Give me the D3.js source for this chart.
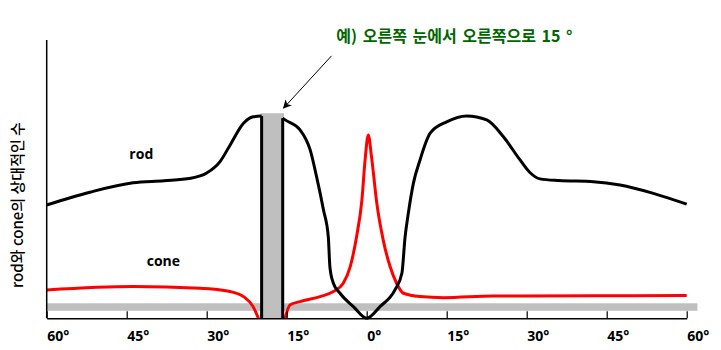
<!DOCTYPE html>
<html>
<head>
<meta charset="utf-8">
<script src="https://cdn.jsdelivr.net/npm/d3@7"></script>
<style>
  body { margin: 0; background: #fff; }
  svg { display: block; }
</style>
</head>
<body>
<svg id="chart" width="721" height="350"></svg>
<script>
// eccentricity in degrees (left of 0 = negative), relative count 0..100
var rodLeft = [
    [-60, 40.7], [-51.9, 45.3], [-43.8, 48.7], [-38, 49.4], [-33, 50.3],
    [-30, 52.2], [-27.5, 56.3], [-25.6, 62.3], [-23.1, 70.1], [-21.3, 72.4],
    [-19.7, 72.7]
];
var rodRight = [
    [-15.75, 71.9], [-15.3, 71.3], [-12.5, 67.7], [-10.6, 60.5], [-9.4, 50.9],
    [-8.1, 38.9], [-7.2, 29.3], [-6.9, 18.5], [-6.25, 12.6], [-5.0, 9.0],
    [-2.5, 4.2], [0, 0], [2.5, 4.2], [5.3, 10.2], [6.6, 16.2], [7.2, 29.3],
    [7.8, 37.7], [8.75, 48.5], [10.0, 56.9], [11.9, 66.5], [15.0, 70.6],
    [18.75, 72.7], [22.5, 71.3], [25.6, 65.3], [28.75, 56.9], [30.6, 52.4],
    [32.5, 50.1], [36, 49.5], [42.5, 49.1], [47.5, 47.9], [53.75, 44.9],
    [60, 41.0]
];
var coneLeft = [
    [-60, 10.2], [-43.8, 11.4], [-31.3, 10.8], [-25.6, 9.6], [-23.1, 7.8],
    [-21.3, 4.2], [-20.3, 0]
];
var coneRight = [
    [-15.3, 0], [-14.4, 4.8], [-12.5, 6.0], [-8.75, 7.8], [-6.25, 9.6],
    [-4.4, 12.6], [-3.1, 18.5], [-1.9, 29.3], [-0.9, 42.5], [-0.3, 56.9],
    [0.3, 65.9], [0.9, 58.1], [1.9, 41.3], [3.1, 28.1], [4.4, 18.5],
    [5.6, 12.6], [6.9, 9.0], [10.0, 7.8], [14.4, 7.4], [23.7, 8.0],
    [42.5, 8.1], [60, 8.2]
];
var blindSpot = [-19.9, -15.5, 73.7];   // from, to, top
var baseBand = [-60, 62, 2.7, 5.4];     // from, to, low, high
var tickValues = [-60, -45, -30, -15, 0, 15, 30, 45, 60];
var tickLabels = ["60°", "45°", "30°", "15°", "0°", "15°", "30°", "45°", "60°"];
var yTitle = "rod와 cone의 상대적인 수";
var noteText = "예) 오른쪽 눈에서 오른쪽으로 15 °";

var svg = d3.select("#chart");

var x = d3.scaleLinear().domain([-60, 60]).range([46.7, 686.7]);
var y = d3.scaleLinear().domain([0, 100]).range([318.3, 40]);

var line = d3.line()
    .x(function (d) { return x(d[0]); })
    .y(function (d) { return y(d[1]); })
    .curve(d3.curveMonotoneX);

// gray baseline band
svg.append("rect")
    .attr("x", x(baseBand[0]))
    .attr("width", x(baseBand[1]) - x(baseBand[0]))
    .attr("y", y(baseBand[3]))
    .attr("height", y(baseBand[2]) - y(baseBand[3]))
    .attr("fill", "#bfbfbf");

// blind spot
svg.append("rect")
    .attr("x", x(blindSpot[0]))
    .attr("width", x(blindSpot[1]) - x(blindSpot[0]))
    .attr("y", y(blindSpot[2]))
    .attr("height", y(0) - y(blindSpot[2]))
    .attr("fill", "#bfbfbf");

// cone curves
[coneLeft, coneRight].forEach(function (seg) {
    svg.append("path")
        .attr("d", line(seg))
        .attr("fill", "none")
        .attr("stroke", "#ff0000")
        .attr("stroke-width", 3);
});

// rod curves
[rodLeft, rodRight].forEach(function (seg) {
    svg.append("path")
        .attr("d", line(seg))
        .attr("fill", "none")
        .attr("stroke", "#000")
        .attr("stroke-width", 3);
});

// rod drops to zero at the blind spot edges
[rodLeft[rodLeft.length - 1], rodRight[0]].forEach(function (d) {
    svg.append("line")
        .attr("x1", x(d[0])).attr("x2", x(d[0]))
        .attr("y1", y(d[1])).attr("y2", y(0))
        .attr("stroke", "#000")
        .attr("stroke-width", 3);
});

// axes
svg.append("line")
    .attr("x1", x(-60)).attr("x2", x(-60))
    .attr("y1", y(100)).attr("y2", y(0))
    .attr("stroke", "#000")
    .attr("stroke-width", 1.5);

var xAxis = svg.append("g")
    .attr("transform", "translate(0," + y(0) + ")")
    .call(d3.axisBottom(x)
        .tickValues(tickValues)
        .tickSize(-7)
        .tickSizeOuter(0)
        .tickFormat(function (d, i) { return tickLabels[i]; }));

xAxis.select(".domain").attr("stroke", "#000").attr("stroke-width", 1.5);
xAxis.selectAll(".tick line").attr("stroke", "#000").attr("stroke-width", 1.2);
xAxis.selectAll(".tick text")
    .attr("text-anchor", "start")
    .attr("y", 23)
    .attr("dy", 0)
    .attr("fill", "#000")
    .attr("font-family", "'Open Sans', sans-serif")
    .attr("font-weight", "bold")
    .attr("font-size", 14);

// series labels
svg.append("text")
    .attr("x", x(-44.5)).attr("y", y(57.3))
    .attr("font-family", "'Open Sans', sans-serif")
    .attr("font-weight", "bold")
    .attr("font-size", 14)
    .text("rod");

svg.append("text")
    .attr("x", x(-41.25)).attr("y", y(18.9))
    .attr("font-family", "'Open Sans', sans-serif")
    .attr("font-weight", "bold")
    .attr("font-size", 14)
    .text("cone");

// y title
svg.append("text")
    .attr("transform", "translate(23,205) rotate(-90)")
    .attr("text-anchor", "middle")
    .attr("font-family", "'Noto Sans CJK KR', sans-serif")
    .attr("font-weight", 500)
    .attr("font-size", 15)
    .text(yTitle);

// annotation with arrow
svg.append("defs").append("marker")
    .attr("id", "arrow")
    .attr("viewBox", "0 0 10 10")
    .attr("refX", 9).attr("refY", 5)
    .attr("markerWidth", 9).attr("markerHeight", 9)
    .attr("markerUnits", "userSpaceOnUse")
    .attr("orient", "auto")
    .append("path")
    .attr("d", "M0,0 L10,5 L0,10 L3,5 Z")
    .attr("fill", "#000");

svg.append("line")
    .attr("x1", x(-6.6)).attr("y1", y(94.3))
    .attr("x2", x(-15.6)).attr("y2", y(75.5))
    .attr("stroke", "#000")
    .attr("stroke-width", 1)
    .attr("marker-end", "url(#arrow)");

svg.append("text")
    .attr("x", x(-5.7)).attr("y", y(99.4))
    .attr("fill", "#006600")
    .attr("font-family", "'Noto Sans CJK KR', sans-serif")
    .attr("font-weight", "bold")
    .attr("font-size", 16)
    .attr("word-spacing", 2)
    .text(noteText);
</script>
</body>
</html>
